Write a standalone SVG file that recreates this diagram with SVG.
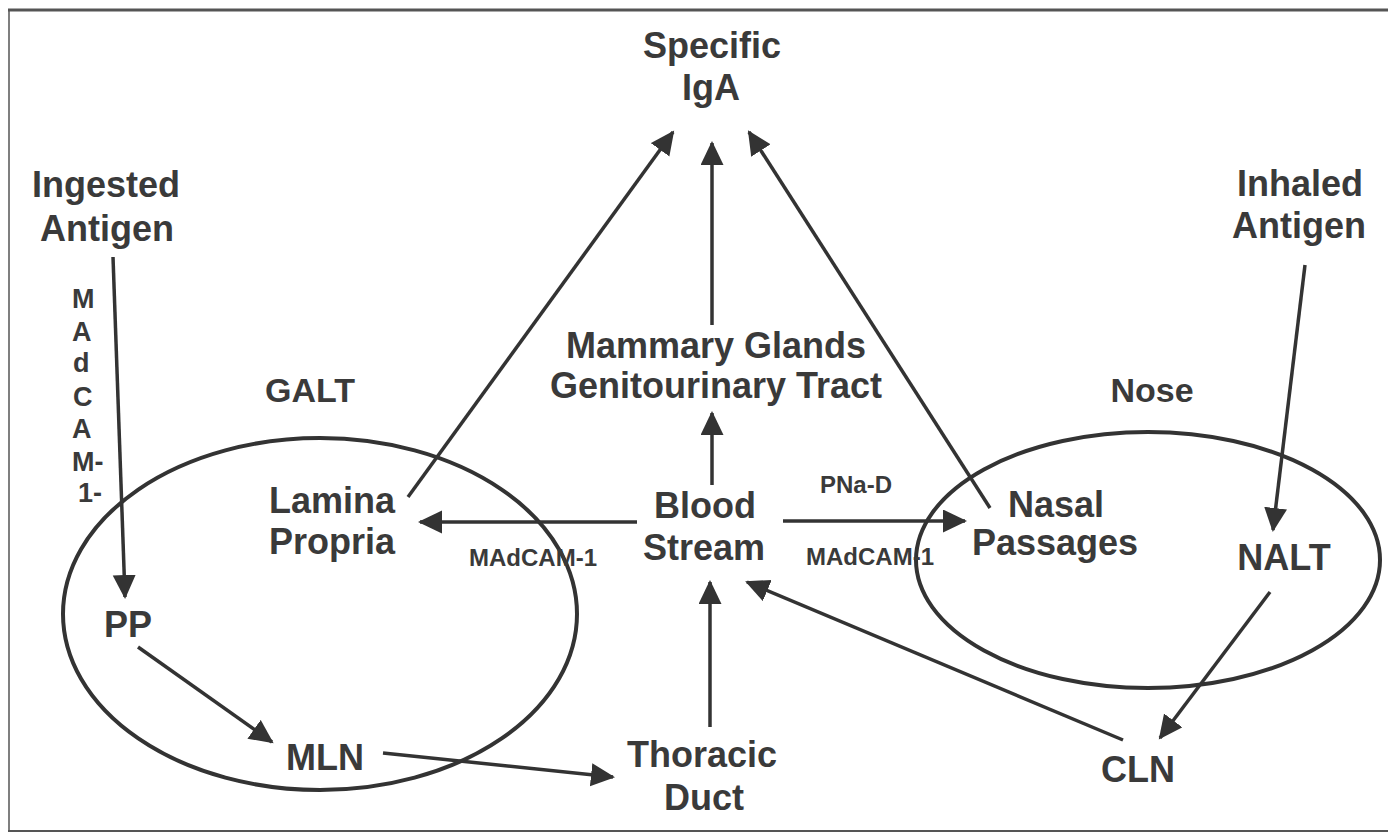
<svg xmlns="http://www.w3.org/2000/svg" width="1388" height="834" viewBox="0 0 1388 834">
<defs>
<style>
.t{font-family:"Liberation Sans",Arial,sans-serif;font-weight:bold;fill:#3a3a3a;text-anchor:middle}
.big{font-size:36px}
.mid{font-size:34px}
.sm{font-size:24px}
.v{font-size:27px;text-anchor:start}
.ln{stroke:#333;stroke-width:3.5;fill:none;marker-end:url(#ah)}
.el{stroke:#333;stroke-width:4;fill:none}
</style>
<marker id="ah" markerUnits="userSpaceOnUse" markerWidth="26" markerHeight="26" refX="22" refY="11.5" orient="auto">
<path d="M0,0 L24,11.5 L0,23 z" fill="#333"/>
</marker>
</defs>
<rect width="1388" height="834" fill="#fff"/>
<g id="frame" stroke="#555" fill="none">
<line x1="8" y1="10" x2="1388" y2="10" stroke-width="3"/>
<line x1="9" y1="10" x2="9" y2="831" stroke-width="1.5"/>
<line x1="8" y1="831" x2="1388" y2="831" stroke-width="2"/>
</g>
<g id="regions">
<ellipse id="galt-ellipse" class="el" cx="320" cy="614" rx="257" ry="176"/>
<ellipse id="nose-ellipse" class="el" cx="1148" cy="560" rx="232" ry="128"/>
</g>
<g id="connectors">
<line class="ln" x1="113" y1="257" x2="125" y2="597"/>
<line class="ln" x1="138" y1="647" x2="272" y2="742"/>
<line class="ln" x1="383" y1="753" x2="613" y2="777"/>
<line class="ln" x1="710" y1="727" x2="710" y2="582"/>
<line class="ln" x1="1123" y1="740" x2="747" y2="582"/>
<line class="ln" x1="1270" y1="592" x2="1160" y2="738"/>
<line class="ln" x1="1305" y1="265" x2="1273" y2="530"/>
<line class="ln" x1="637" y1="522" x2="420" y2="522"/>
<line class="ln" x1="783" y1="521" x2="965" y2="521"/>
<line class="ln" x1="712" y1="485" x2="712" y2="413"/>
<line class="ln" x1="712" y1="325" x2="712" y2="143"/>
<line class="ln" x1="408" y1="497" x2="673" y2="132"/>
<line class="ln" x1="990" y1="508" x2="749" y2="132"/>
</g>
<g id="specific-iga"><text class="t big" x="712" y="58">Specific</text><text class="t big" x="711" y="100">IgA</text></g>
<g id="ingested-antigen"><text class="t big" x="106" y="197">Ingested</text><text class="t big" x="107" y="241">Antigen</text></g>
<g id="inhaled-antigen"><text class="t big" x="1300" y="196">Inhaled</text><text class="t big" x="1299" y="238">Antigen</text></g>
<g id="madcam-vertical">
<text class="t v" x="72" y="308">M</text>
<text class="t v" x="72" y="341">A</text>
<text class="t v" x="73" y="372">d</text>
<text class="t v" x="73" y="406">C</text>
<text class="t v" x="72" y="438">A</text>
<text class="t v" x="72" y="471">M-</text>
<text class="t v" x="78" y="502">1-</text>
</g>
<g id="galt"><text class="t mid" x="310" y="402">GALT</text></g>
<g id="nose"><text class="t mid" x="1152" y="402">Nose</text></g>
<g id="mammary"><text class="t big" x="716" y="358">Mammary Glands</text><text class="t big" x="716" y="398">Genitourinary Tract</text></g>
<g id="lamina-propria"><text class="t big" x="332" y="513">Lamina</text><text class="t big" x="332" y="554">Propria</text></g>
<g id="blood-stream"><text class="t big" x="705" y="518">Blood</text><text class="t big" x="704" y="560">Stream</text></g>
<g id="edge-labels">
<text class="t sm" x="856" y="493">PNa-D</text>
<text class="t sm" x="533" y="566">MAdCAM-1</text>
<text class="t sm" x="870" y="565">MAdCAM-1</text>
</g>
<g id="nasal-passages"><text class="t big" x="1056" y="517">Nasal</text><text class="t big" x="1055" y="555">Passages</text></g>
<g id="nalt"><text class="t big" x="1284" y="570">NALT</text></g>
<g id="pp"><text class="t big" x="128" y="637">PP</text></g>
<g id="mln"><text class="t big" x="325" y="770">MLN</text></g>
<g id="thoracic-duct"><text class="t big" x="702" y="767">Thoracic</text><text class="t big" x="704" y="810">Duct</text></g>
<g id="cln"><text class="t big" x="1138" y="782">CLN</text></g>
</svg>
